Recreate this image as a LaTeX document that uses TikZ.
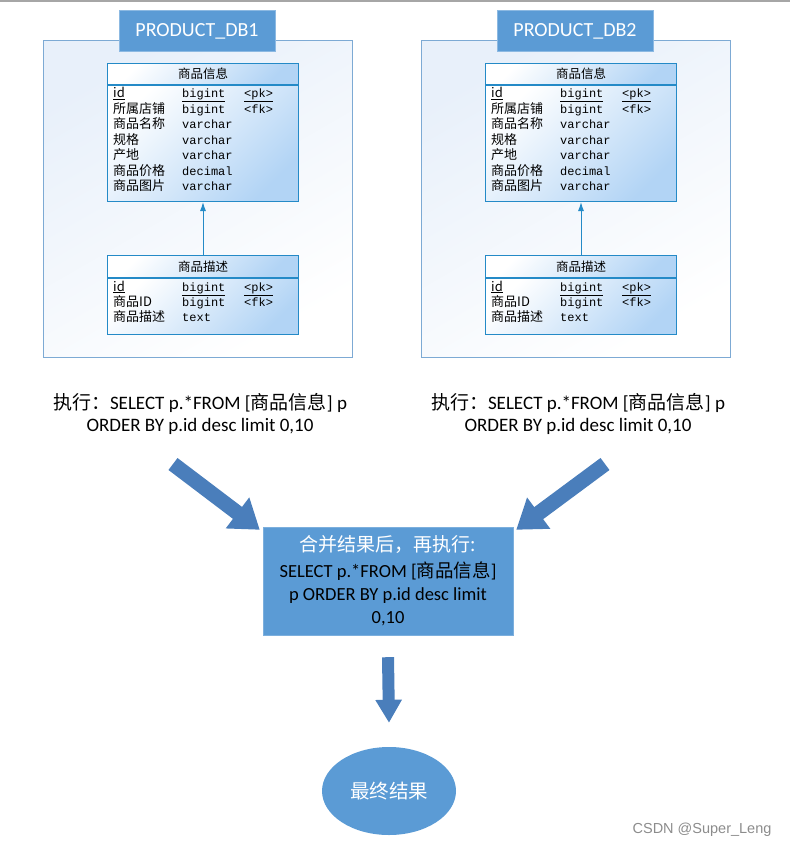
\documentclass[tikz,border=0pt]{standalone}
\usepackage{fontspec}
\setmainfont{Carlito}
\setmonofont{Liberation Mono}
\newfontfamily\cjk{Noto Sans CJK SC}
\newfontfamily\markfont{Liberation Sans}
\usetikzlibrary{arrows.meta,shapes.geometric,positioning}

\definecolor{dbblue}{RGB}{91,155,213}
\definecolor{arrowblue}{RGB}{74,126,187}
\definecolor{tableline}{RGB}{36,138,199}
\definecolor{tablefill}{RGB}{178,212,245}
\definecolor{framefill}{RGB}{232,240,250}
\definecolor{frameline}{RGB}{125,170,212}

\newcommand\rowfont{\fontsize{12}{12}\selectfont}

\tikzset{
  dbframe/.style={draw=frameline, line width=1pt, top color=framefill, bottom color=white, shading angle=30, inner sep=0},
  dbtitle/.style={draw=dbblue!70, fill=dbblue, text=white, inner sep=0, font=\fontsize{20}{20}\selectfont},
  tablebox/.style={draw=tableline, line width=1pt, top color=white, bottom color=tablefill, shading angle=45, inner sep=0, minimum width=191},
  namecol/.style={anchor=base west, inner sep=0, font=\cjk\fontsize{13}{13}\selectfont},
  typecol/.style={anchor=base west, inner sep=0, font=\ttfamily\rowfont},
  sqltext/.style={align=center, inner sep=0, font=\fontsize{19}{22}\selectfont},
  bigarrow/.style={draw=arrowblue, line width=15pt, -{Triangle[width=37pt,length=28pt]}},
}

\begin{document}
\begin{tikzpicture}[x=1pt, y=-1pt]
  \useasboundingbox (0,0) rectangle (790,846);
  \draw[black!35, line width=1.5pt] (0,0.75) -- (790,0.75);

  % the two databases
  \foreach \i/\dx in {1/0, 2/378} {
    \begin{scope}[xshift=\dx]
      \node[dbframe, minimum width=309, minimum height=317, anchor=north west] (frame\i) at (43,40) {};
      \node[dbtitle, minimum width=156, minimum height=41] (title\i) at (197,31) {PRODUCT\_DB\i};

      % table 商品信息
      \node[tablebox, minimum height=21, anchor=north west, font=\cjk\fontsize{12.5}{12.5}\selectfont] (infohead\i) at (107,63) {商品信息};
      \node[tablebox, minimum height=116, anchor=north] (info\i) at (infohead\i.south) {};
      \node[namecol] (n\i-0) at (113,97.5) {\underline{id}};
      \node[typecol] (t\i-0) at (182,97.5) {\underline{bigint}};
      \node[typecol] (k\i-0) at (244,97.5) {\underline{<pk>}};
      \foreach \n/\t/\k [count=\r] in {所属店铺/bigint/<fk>, 商品名称/varchar/{}, 规格/varchar/{},
                                      产地/varchar/{}, 商品价格/decimal/{}, 商品图片/varchar/{}} {
        \node[namecol] (n\i-\r) at (113,97.5+15.5*\r) {\n};
        \node[typecol] (t\i-\r) at (182,97.5+15.5*\r) {\t};
        \node[typecol] (k\i-\r) at (244,97.5+15.5*\r) {\k};
      }

      % table 商品描述
      \node[tablebox, minimum height=22, anchor=north west, font=\cjk\fontsize{12.5}{12.5}\selectfont] (deschead\i) at (107,255) {商品描述};
      \node[tablebox, minimum height=56, anchor=north] (desc\i) at (deschead\i.south) {};
      \node[namecol] (dn\i-0) at (113,291) {\underline{id}};
      \node[typecol] (dt\i-0) at (182,291) {\underline{bigint}};
      \node[typecol] (dk\i-0) at (244,291) {\underline{<pk>}};
      \node[namecol] (dn\i-1) at (113,306) {商品ID};
      \node[typecol] (dt\i-1) at (182,306) {bigint};
      \node[typecol] (dk\i-1) at (244,306) {<fk>};
      \node[namecol] (dn\i-2) at (113,321.5) {商品描述};
      \node[typecol] (dt\i-2) at (182,321.5) {text};

      \draw[tableline, line width=1pt, -{Latex[length=9pt,width=6pt]}] (deschead\i.north) -- (info\i.south);

      \node[sqltext] (sql\i) at (200,414) {{\cjk 执行：}SELECT p.*FROM [{\cjk 商品信息}] p\\ORDER BY p.id desc limit 0,10};
    \end{scope}
  }

  % merge step
  \node[fill=dbblue, draw=dbblue!80, minimum width=250, minimum height=108, align=center, inner sep=0,
        font=\fontsize{18.5}{23}\selectfont] (merge) at (388,581)
    {{\cjk\color{white}\fontsize{19}{23}\selectfont 合并结果后，再执行:}\\[3pt]
     SELECT p.*FROM [{\cjk 商品信息}]\\
     p ORDER BY p.id desc limit\\
     0,10};
  \node[ellipse, fill=dbblue, minimum width=134, minimum height=88, inner sep=0, text=white,
        font=\cjk\fontsize{19.5}{20}\selectfont] (final) at (389,791) {最终结果};

  \coordinate (in1) at (173,464);
  \coordinate (in2) at (605,464);
  \draw[bigarrow] (in1) -- ([shift={(-3pt,-3pt)}]merge.north west);
  \draw[bigarrow] (in2) -- ([shift={(3pt,-3pt)}]merge.north east);
  \draw[draw=arrowblue, line width=12pt, -{Triangle[width=25pt,length=23pt]}]
    ([yshift=-22pt]merge.south) -- ([yshift=24pt]final.north);

  \node[anchor=base east, text=black!45, font=\markfont\fontsize{14.5}{14.5}\selectfont] (mark) at (775,833) {CSDN @Super\_Leng};
\end{tikzpicture}
\end{document}
